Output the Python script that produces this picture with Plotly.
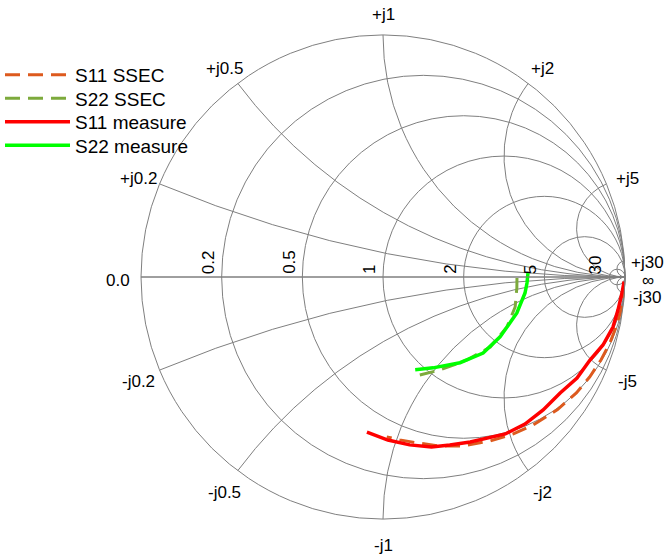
import plotly.graph_objects as go

# S11 SSEC (dashed orange) - normalized impedance
s11_ssec_re = [1.0, 0.85, 0.75, 0.69, 0.60, 0.56, 0.52, 0.49, 0.475, 0.466, 0.457, 0.448, 0.431, 0.426, 0.423, 0.411, 0.401]
s11_ssec_im = [-80, -26, -14.4, -9.4, -7.0, -5.4, -4.3, -3.55, -2.9, -2.36, -2.04, -1.76, -1.49, -1.30, -1.14, -1.02, -0.94]

# S22 SSEC (dashed olive)
s22_ssec_re = [3.48, 3.43, 3.10, 2.48, 1.83, 1.40, 1.09, 0.87]
s22_ssec_im = [-0.04, -0.45, -1.12, -1.47, -1.47, -1.26, -1.05, -0.88]

# S11 measure (red)
s11_meas_re = [20, 10, 4.47, 1.98, 1.20, 1.085, 1.088, 0.858, 0.779, 0.626, 0.531, 0.487, 0.464, 0.439, 0.412, 0.398, 0.386, 0.378]
s11_meas_im = [-100, -58, -29.2, -14.0, -9.15, -6.44, -4.95, -3.91, -3.18, -2.64, -2.25, -1.95, -1.56, -1.38, -1.24, -1.09, -0.953, -0.828]

# S22 measure (green)
s22_meas_re = [3.98, 3.92, 3.72, 3.03, 2.15, 1.65, 1.31, 1.06, 0.93]
s22_meas_im = [0.2, -0.30, -0.755, -1.34, -1.51, -1.42, -1.20, -0.975, -0.853]

series_names = ["S11 SSEC", "S22 SSEC", "S11 measure", "S22 measure"]
real_ticks = [0.2, 0.5, 1, 2, 5, 30]
imag_ticks = [0.2, 0.5, 1, 2, 5, 30]

W, H = 669, 559
CX, CY, R = 383.0, 277.0, 242.0   # chart circle in pixels (layout)
GRID = "#7f7f7f"
LBL = 17


def paper(px, py):
    return px / W, 1 - py / H


def fmt(v):
    return "%g" % v


styles = [
    dict(color="#dd5a1e", width=3, dash="15px,8px"),
    dict(color="#7daa3c", width=3, dash="15px,8px"),
    dict(color="#ff0000", width=3.5),
    dict(color="#00ff00", width=3.5),
]
data = [(s11_ssec_re, s11_ssec_im), (s22_ssec_re, s22_ssec_im),
        (s11_meas_re, s11_meas_im), (s22_meas_re, s22_meas_im)]
legend_ids = ["legend", "legend2", "legend3", "legend4"]

fig = go.Figure()
for (re, im), name, st, lg in zip(data, series_names, styles, legend_ids):
    fig.add_trace(go.Scattersmith(real=re, imag=im, mode="lines", name=name, line=st,
                                  legend=lg, showlegend=True))

annotations = []
rim_items = [(complex(0, v), "+j" + fmt(v)) for v in imag_ticks] + \
            [(complex(0, -v), "-j" + fmt(v)) for v in imag_ticks]
for z, txt in rim_items:
    g = (z - 1) / (z + 1)
    d = g / abs(g)
    x, y = paper(CX + (R + 23) * d.real, CY - (R + 23) * d.imag + 3)
    annotations.append(dict(x=x, y=y, xref="paper", yref="paper", text=txt, showarrow=False,
                            xanchor="center", yanchor="middle", font=dict(size=LBL)))
for g, txt in [(-1.0, "0.0"), (1.0, "∞")]:
    x, y = paper(CX + (R + 23) * g, CY + 3)
    annotations.append(dict(x=x, y=y, xref="paper", yref="paper", text=txt, showarrow=False,
                            xanchor="center", yanchor="middle", font=dict(size=LBL)))
for r in real_ticks:
    g = (r - 1) / (r + 1)
    x, y = paper(CX + R * g - 2, CY - 1)
    annotations.append(dict(x=x, y=y, xref="paper", yref="paper", text=fmt(r), showarrow=False,
                            textangle=-90, xanchor="right", yanchor="bottom", font=dict(size=LBL)))

axis_common = dict(gridcolor=GRID, gridwidth=1, linecolor=GRID, linewidth=1, showline=True,
                   ticks="", showticklabels=False)

x0, y0 = paper(CX - R, CY + R)
x1, y1 = paper(CX + R, CY - R)

layout_legends = {}
for i, lg in enumerate(legend_ids):
    lx, ly = paper(0, 75 + 23.5 * i)
    layout_legends[lg] = dict(x=0.0, y=ly, xanchor="left", yanchor="middle", bgcolor="rgba(0,0,0,0)",
                              itemwidth=65, font=dict(size=19))

fig.update_layout(
    template="none",
    width=W, height=H,
    showlegend=True,
    margin=dict(l=0, r=0, t=0, b=0),
    paper_bgcolor="white",
    font=dict(family="Liberation Sans, Arial, Helvetica, sans-serif", size=LBL, color="black"),
    smith=dict(
        bgcolor="white",
        domain=dict(x=[x0, x1], y=[y0, y1]),
        realaxis=dict(tickvals=real_ticks, **axis_common),
        imaginaryaxis=dict(tickvals=[-v for v in imag_ticks[::-1]] + [0] + imag_ticks, **axis_common),
    ),
    annotations=annotations,
    **layout_legends,
)

fig.write_html("out.html", config={"displayModeBar": False},
               post_script="document.body.style.margin='0px';")
